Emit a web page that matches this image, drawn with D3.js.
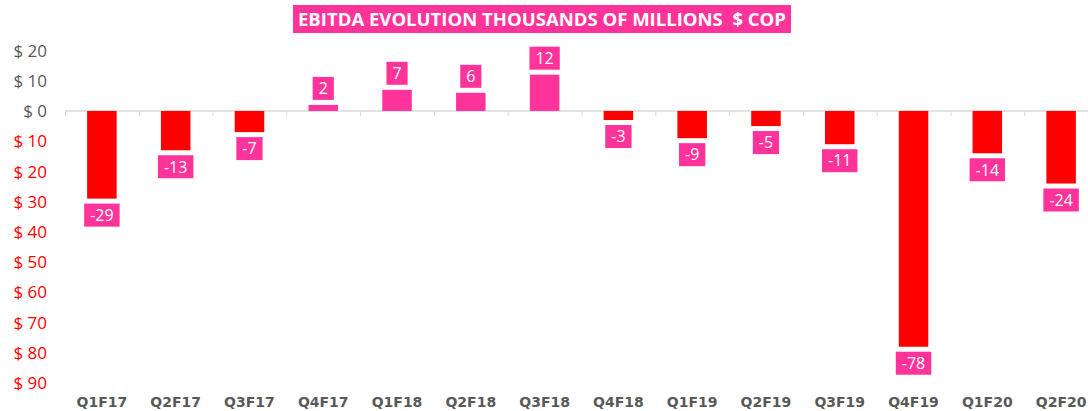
<!DOCTYPE html>
<html>
<head>
<meta charset="utf-8">
<script src="https://cdn.jsdelivr.net/npm/d3@7.9.0/dist/d3.min.js"></script>
<style>
  body { margin: 0; background: #fff; }
  svg { display: block; font-family: "Open Sans", "DejaVu Sans", sans-serif; }
</style>
</head>
<body>
<svg id="chart" width="1088" height="411"></svg>
<script>
const quarters = ['Q1F17', 'Q2F17', 'Q3F17', 'Q4F17', 'Q1F18', 'Q2F18', 'Q3F18',
  'Q4F18', 'Q1F19', 'Q2F19', 'Q3F19', 'Q4F19', 'Q1F20', 'Q2F20'];
const ebitda = [-29, -13, -7, 2, 7, 6, 12, -3, -9, -5, -11, -78, -14, -24];
const yTicks = [20, 10, 0, -10, -20, -30, -40, -50, -60, -70, -80, -90];
const title = 'EBITDA EVOLUTION THOUSANDS OF MILLIONS  $ COP';

const pink = '#ff3399';
const red = '#ff0000';

const svg = d3.select('#chart');

const x = d3.scaleBand().domain(quarters).range([65, 1098]).paddingInner(0.6).paddingOuter(0.3);
const band = d3.scaleBand().domain(quarters).range([65, 1098]);
const y = d3.scaleLinear().domain([-90, 20]).range([383, 50.5]);

// title
const tg = svg.append('g');
tg.append('rect')
  .attr('x', 293).attr('y', 5).attr('width', 498).attr('height', 28)
  .attr('fill', pink);
tg.append('text')
  .attr('x', 542).attr('y', 26)
  .attr('text-anchor', 'middle')
  .attr('fill', '#fff')
  .attr('font-weight', 700)
  .attr('font-size', 18)
  .attr('textLength', 488)
  .attr('lengthAdjust', 'spacingAndGlyphs')
  .style('white-space', 'pre')
  .text(title);

// y axis labels
svg.append('g').selectAll('text')
  .data(yTicks)
  .join('text')
  .attr('x', 47)
  .attr('y', (d) => y(d))
  .attr('dy', '0.36em')
  .attr('text-anchor', 'end')
  .attr('font-size', 17)
  .attr('fill', (d) => d < 0 ? red : '#595959')
  .text((d) => `$ ${Math.abs(d)}`);

// baseline + tick marks
svg.append('line')
  .attr('x1', 65).attr('x2', 1098)
  .attr('y1', y(0)).attr('y2', y(0))
  .attr('stroke', '#d9d9d9').attr('stroke-width', 1.5);
svg.append('g').selectAll('line')
  .data(quarters)
  .join('line')
  .attr('x1', (d) => band(d) + 0.5).attr('x2', (d) => band(d) + 0.5)
  .attr('y1', y(0)).attr('y2', y(0) + 5)
  .attr('stroke', '#d9d9d9');

// bars
svg.append('g').selectAll('rect')
  .data(quarters)
  .join('rect')
  .attr('x', (d) => x(d))
  .attr('width', x.bandwidth())
  .attr('y', (d, i) => y(Math.max(0, ebitda[i])))
  .attr('height', (d, i) => Math.abs(y(ebitda[i]) - y(0)))
  .attr('fill', (d, i) => ebitda[i] < 0 ? red : pink);

// value labels
const lg = svg.append('g');
quarters.forEach((q, i) => {
  const v = ebitda[i];
  const cx = x(q) + x.bandwidth() / 2;
  const g = lg.append('g');
  const t = g.append('text')
    .attr('x', cx)
    .attr('text-anchor', 'middle')
    .attr('fill', '#fff')
    .attr('font-size', 16)
    .text(v);
  const w = t.node().getComputedTextLength() + 12;
  const h = 23;
  const top = v < 0 ? y(v) + 5 : y(v) - 5 - h;
  g.insert('rect', 'text')
    .attr('x', cx - w / 2).attr('y', top)
    .attr('width', w).attr('height', h)
    .attr('fill', pink);
  t.attr('y', top + h / 2).attr('dy', '0.36em');
});

// x labels
svg.append('g').selectAll('text')
  .data(quarters)
  .join('text')
  .attr('x', (d) => band(d) + band.bandwidth() / 2)
  .attr('y', 402)
  .attr('dy', '0.36em')
  .attr('text-anchor', 'middle')
  .attr('font-family', '"DejaVu Sans", sans-serif')
  .attr('font-weight', 700)
  .attr('font-size', 14)
  .attr('fill', '#595959')
  .text((d) => d);
</script>
</body>
</html>
